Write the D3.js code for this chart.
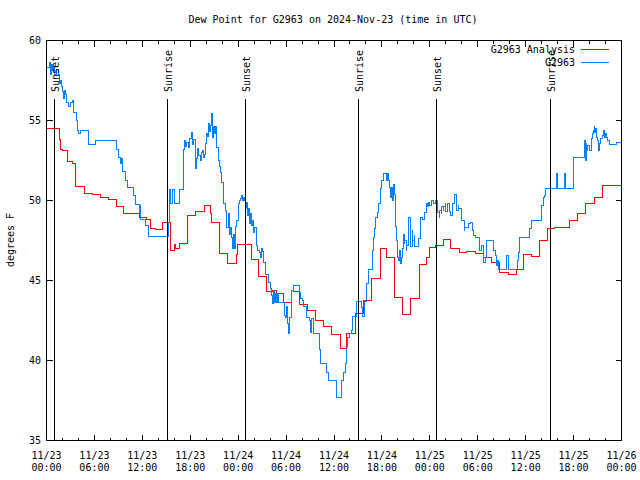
<!DOCTYPE html>
<html>
<head>
<meta charset="utf-8">
<script src="https://cdn.jsdelivr.net/npm/d3@7"></script>
<style>
  html, body { margin: 0; padding: 0; background: #fff; }
  svg { display: block; }
  text { font-family: "DejaVu Sans Mono", "Liberation Mono", monospace; font-size: 10px; fill: #000; }
</style>
</head>
<body>
<script>
// ---------------- data ----------------
const titleText = "Dew Point for G2963 on 2024-Nov-23 (time in UTC)";
const yLabelText = "degrees F";
const seriesNames = ["G2963 Analysis", "G2963"];
const seriesColors = ["#ff0000", "#0080ff"];
const yTicks = [35, 40, 45, 50, 55, 60];
const spanHours = 72;

// hours since 2024-11-23 00:00 UTC
const anaHours = [
  0.00,1.63,1.80,2.05,2.63,3.22,3.63,4.72,5.72,6.72,
  7.76,8.72,9.64,10.56,11.64,12.57,12.98,13.69,14.57,15.48,
  15.98,16.15,16.65,17.65,18.65,19.74,20.58,20.65,21.65,22.65,
  23.74,23.91,25.71,26.53,27.58,28.29,28.84,29.66,30.71,30.91,
  31.63,32.67,33.67,34.67,35.67,36.76,37.60,38.64,39.68,40.73,
  41.76,42.60,43.52,44.61,45.61,46.68,47.61,47.94,48.77,49.69,
  50.65,51.69,52.62,53.74,54.69,55.75,56.70,57.82,58.79,59.70,
  60.75,61.70,62.70,63.67,65.55,66.51,67.55,68.68,69.59
];
const anaValues = [
  54.48,53.81,53.21,53.12,52.42,52.33,50.88,50.42,50.38,50.21,
  50.06,49.6,49.2,49.17,48.96,48.8,48.27,48.19,48.65,46.9,
  47.23,47.0,47.3,49.04,49.3,49.7,49.17,48.6,46.7,46.04,
  46.6,47.25,46.3,45.27,44.3,44.35,44.17,43.6,44.4,44.3,
  43.5,43.1,42.5,42.14,41.6,40.73,41.67,42.96,43.75,45.15,
  46.98,46.42,43.96,42.9,43.85,45.98,46.46,47.08,47.19,47.54,
  46.98,46.77,46.83,46.67,46.46,46.1,45.5,45.4,45.67,46.6,
  46.5,47.5,48.23,48.29,48.75,49.2,49.79,50.21,50.94
];

const obsHours = [
  0.00,0.40,0.50,0.59,0.71,0.84,1.03,1.21,1.46,1.59,
  1.71,1.84,1.97,2.13,2.22,2.34,2.55,2.72,2.97,3.22,
  3.38,3.72,3.88,3.97,4.22,5.26,6.10,8.81,9.01,9.22,
  9.35,9.56,9.85,10.14,10.89,11.10,11.64,11.73,11.82,12.35,
  12.77,15.27,15.42,15.55,15.80,15.98,16.65,17.15,17.30,17.42,
  17.55,17.74,17.92,18.15,18.27,18.42,18.65,18.74,18.86,19.05,
  19.24,19.36,19.49,19.61,19.74,19.86,19.99,20.11,20.24,20.36,
  20.49,20.65,20.74,20.86,20.99,21.11,21.33,21.53,21.61,21.74,
  21.86,22.15,22.37,22.49,22.58,22.74,22.87,22.99,23.12,23.24,
  23.37,23.49,23.62,23.74,23.99,24.16,24.31,24.37,24.49,24.62,
  24.74,24.87,24.99,25.12,25.24,25.37,25.49,25.62,25.74,25.87,
  26.06,26.25,26.37,26.62,26.75,26.87,27.06,27.12,27.37,27.75,
  28.00,28.12,28.25,28.37,28.50,28.62,28.75,28.84,28.87,29.00,
  29.75,29.88,30.00,30.13,30.25,30.38,30.71,30.88,31.67,31.75,
  32.00,32.13,32.59,32.88,33.00,33.13,33.38,34.13,34.26,35.09,
  35.26,36.26,36.88,37.13,37.38,37.57,37.70,37.89,38.22,38.35,
  38.76,38.80,39.39,39.51,39.85,40.10,40.30,40.76,40.93,41.01,
  41.23,41.39,41.55,41.76,42.01,42.18,42.52,42.64,42.77,42.89,
  43.02,43.14,43.27,43.39,43.52,43.68,43.77,43.89,44.02,44.14,
  44.27,44.39,44.52,44.64,44.77,44.89,45.02,45.14,45.27,45.39,
  45.52,45.64,45.77,45.89,46.02,46.14,46.52,46.77,46.89,47.08,
  47.27,47.39,47.52,47.64,47.77,47.89,48.02,48.27,48.40,48.77,
  48.90,49.02,49.15,49.27,49.40,49.52,49.65,49.77,49.90,50.02,
  50.15,50.27,50.40,50.65,50.78,50.90,51.15,51.28,51.53,51.65,
  51.99,52.28,52.40,52.90,53.03,53.32,53.44,53.66,54.16,54.28,
  54.41,54.66,54.78,54.91,55.12,56.03,56.25,56.41,56.53,56.66,
  57.62,57.79,58.95,59.04,59.29,60.54,60.79,62.00,62.21,62.29,
  62.42,62.54,63.88,63.98,64.92,65.05,65.96,67.42,67.51,67.59,
  67.67,67.80,68.05,68.26,68.42,68.55,68.59,68.68,68.80,68.93,
  69.05,69.18,69.30,69.43,69.68,69.80,69.93,70.05,70.18,70.30,
  70.47,71.43
];
const obsValues = [
  58.3,58.6,57.9,58.5,58.1,58.4,57.9,58.2,57.9,57.3,
  57.5,57.1,56.8,56.35,56.9,56.6,56.15,55.9,56.15,56.25,
  55.5,55.0,54.4,54.2,54.4,53.5,53.75,53.2,52.7,52.3,
  52.6,51.8,51.25,50.8,50.3,49.75,49.17,49.7,48.8,48.45,
  47.75,48.6,50.7,49.8,50.7,49.8,50.7,53.2,53.75,53.4,
  53.65,53.3,53.9,54.27,53.5,53.8,52.0,52.6,53.25,52.8,
  52.5,53.0,53.1,52.7,52.9,53.56,54.2,54.0,54.8,54.3,
  54.7,55.45,53.96,54.6,54.2,54.6,53.3,52.5,52.1,51.77,
  51.1,49.8,49.4,48.55,48.33,49.2,47.9,48.3,47.7,46.98,
  47.9,47.0,48.4,48.75,49.8,50.0,50.1,50.3,50.0,50.2,
  50.0,49.5,49.9,49.06,49.5,48.54,49.2,48.44,48.75,48.0,
  48.3,47.2,46.9,46.77,46.46,47.0,46.8,46.14,45.4,44.9,
  44.48,44.06,43.54,44.4,43.6,44.17,44.06,43.65,44.17,43.6,
  42.8,42.7,43.4,42.3,41.67,42.7,44.4,44.7,44.27,43.85,
  43.75,43.4,42.7,42.5,41.77,42.6,41.67,40.67,39.8,39.27,
  38.75,37.7,38.75,39.27,39.8,40.8,41.46,41.7,41.9,42.75,
  43.1,43.7,43.3,42.75,43.7,44.8,45.7,46.9,47.7,48.23,
  48.96,49.27,49.8,50.73,51.25,51.7,51.25,51.7,51.25,50.8,
  50.2,50.8,50.0,51.0,50.4,48.4,47.5,46.46,46.25,46.9,
  46.04,46.46,47.0,47.9,47.3,47.5,46.9,47.2,47.5,48.96,
  47.3,47.1,48.1,47.5,47.8,47.1,47.6,48.4,48.96,48.8,
  49.06,49.27,49.4,49.8,49.6,49.9,49.7,50.0,49.8,50.0,
  49.5,49.27,48.96,49.4,49.2,49.6,49.4,49.6,49.8,49.3,
  49.5,49.8,49.3,49.06,49.6,49.8,50.4,49.4,49.7,49.5,
  48.75,48.1,48.33,48.54,48.64,48.1,47.8,47.7,47.3,46.9,
  47.2,46.46,46.14,46.46,47.5,46.9,46.56,45.94,46.25,45.7,
  46.56,45.7,46.25,46.77,47.7,48.23,48.75,49.7,49.8,50.2,
  50.3,50.73,51.7,50.73,51.7,50.73,52.7,53.75,52.5,53.54,
  53.1,53.44,53.1,53.85,54.17,54.4,54.6,54.27,54.5,53.96,
  53.75,53.1,53.54,53.85,54.06,54.4,53.96,54.17,53.96,53.75,
  53.5,53.65
];

const sunHours = [0.88, 15.04, 24.80, 39.05, 48.80, 63.10];
const sunLabels = ["Sunset", "Sunrise", "Sunset", "Sunrise", "Sunset", "Sunrise"];

// ---------------- chart ----------------
const W = 640, H = 480;
const start = new Date(Date.UTC(2024, 10, 23, 0, 0));
const hr = h => new Date(start.getTime() + h * 3600 * 1000);

const x = d3.scaleUtc().domain([start, hr(spanHours)]).range([46.5, 621.5]);
const y = d3.scaleLinear().domain([35, 60]).range([440.5, 40.5]);

const svg = d3.select("body").append("svg").attr("width", W).attr("height", H);
svg.append("rect").attr("width", W).attr("height", H).attr("fill", "#fff");

// title
svg.append("text").attr("x", 333).attr("y", 23).attr("text-anchor", "middle").text(titleText);

// y label
svg.append("text").attr("transform", "translate(14,240) rotate(-90)")
  .attr("text-anchor", "middle").text(yLabelText);

// axes (ticks inward, mirrored)
const major = d3.utcHour.every(6), minor = d3.utcHour.every(2);
function clean(g) { g.select(".domain").remove(); g.selectAll("text").remove(); g.selectAll("line").attr("stroke", "#000").attr("shape-rendering", "crispEdges"); }
svg.append("g").attr("transform", `translate(0,${y(35)})`)
  .call(d3.axisBottom(x).ticks(minor).tickSize(-3).tickFormat("").offset(0)).call(clean);
svg.append("g").attr("transform", `translate(0,${y(35)})`)
  .call(d3.axisBottom(x).ticks(major).tickSize(-6).tickFormat("").offset(0)).call(clean);
svg.append("g").attr("transform", `translate(0,${y(60)})`)
  .call(d3.axisTop(x).ticks(minor).tickSize(-3).tickFormat("").offset(0)).call(clean);
svg.append("g").attr("transform", `translate(0,${y(60)})`)
  .call(d3.axisTop(x).ticks(major).tickSize(-6).tickFormat("").offset(0)).call(clean);
svg.append("g").attr("transform", `translate(${x.range()[0]},0)`)
  .call(d3.axisLeft(y).tickValues(yTicks).tickSize(-6).tickFormat("").offset(0)).call(clean);
svg.append("g").attr("transform", `translate(${x.range()[1]},0)`)
  .call(d3.axisRight(y).tickValues(yTicks).tickSize(-6).tickFormat("").offset(0)).call(clean);

// x tick labels (two lines)
const fmtD = d3.utcFormat("%m/%d"), fmtT = d3.utcFormat("%H:%M");
const xl = svg.append("g");
x.ticks(major).forEach(t => {
  const tx = xl.append("text").attr("text-anchor", "middle");
  tx.append("tspan").attr("x", x(t)).attr("y", 459).text(fmtD(t));
  tx.append("tspan").attr("x", x(t)).attr("y", 471).text(fmtT(t));
});
// y tick labels
yTicks.forEach(v => {
  svg.append("text").attr("x", 41).attr("y", y(v) + 3.5).attr("text-anchor", "end").text(v);
});

// data lines
const mk = (hs, vs) => {
  const pts = hs.map((h, i) => [hr(h), vs[i]]);
  pts.push([hr(spanHours), vs[vs.length - 1]]);
  return pts;
};
const line = d3.line().x(d => x(d[0])).y(d => y(d[1])).curve(d3.curveStepAfter);
const clipId = "plotclip";
svg.append("clipPath").attr("id", clipId).append("rect")
  .attr("x", x.range()[0]).attr("y", y(60)).attr("width", x.range()[1] - x.range()[0]).attr("height", y(35) - y(60));
const dataG = svg.append("g").attr("clip-path", `url(#${clipId})`);
dataG.append("path").datum(mk(anaHours, anaValues)).attr("d", line)
  .attr("fill", "none").attr("stroke", seriesColors[0]).attr("stroke-width", 1)
  .attr("shape-rendering", "crispEdges");
dataG.append("path").datum(mk(obsHours, obsValues)).attr("d", line)
  .attr("fill", "none").attr("stroke", seriesColors[1]).attr("stroke-width", 1)
  .attr("shape-rendering", "crispEdges");

// sunrise / sunset markers
sunHours.forEach((h, i) => {
  const sx = Math.round(x(hr(h))) + 0.5;
  svg.append("line").attr("x1", sx).attr("x2", sx).attr("y1", 99).attr("y2", y(35))
    .attr("stroke", "#000").attr("shape-rendering", "crispEdges");
  svg.append("text").attr("transform", `translate(${sx + 4.5},92) rotate(-90)`)
    .attr("text-anchor", "start").text(sunLabels[i]);
});

// border
svg.append("rect").attr("x", x.range()[0]).attr("y", y(60))
  .attr("width", x.range()[1] - x.range()[0]).attr("height", y(35) - y(60))
  .attr("fill", "none").attr("stroke", "#000").attr("shape-rendering", "crispEdges");

// legend
seriesNames.forEach((n, i) => {
  const ly = 49.5 + i * 13;
  svg.append("text").attr("x", 575).attr("y", ly + 3.5).attr("text-anchor", "end").text(n);
  svg.append("line").attr("x1", 581).attr("x2", 609).attr("y1", ly).attr("y2", ly)
    .attr("stroke", seriesColors[i]).attr("shape-rendering", "crispEdges");
});
</script>
</body>
</html>
